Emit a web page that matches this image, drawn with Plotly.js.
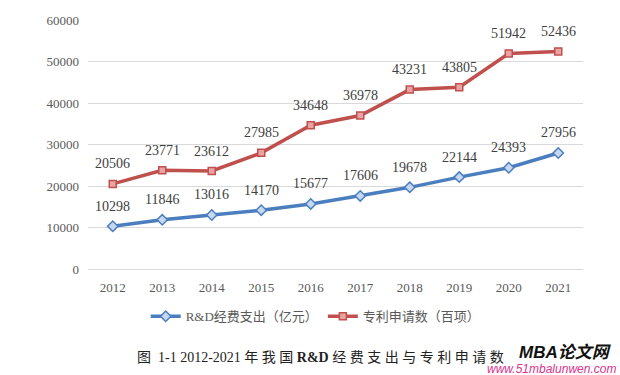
<!DOCTYPE html>
<html><head><meta charset="utf-8">
<script src="https://cdn.plot.ly/plotly-3.0.1.min.js"></script>
<style>body{margin:0;background:#fff}#c{width:620px;height:375px}</style>
</head><body><div id="c"></div>
<script>
const years = ['2012','2013','2014','2015','2016','2017','2018','2019','2020','2021'];
const rdSpending = [10298,11846,13016,14170,15677,17606,19678,22144,24393,27956];
const patents = [20506,23771,23612,27985,34648,36978,43231,43805,51942,52436];
const seriesNames = ['R&D经费支出（亿元）','专利申请数（百项）'];
const caption = '图  1-1 2012-2021 年 我 国 <b>R&D</b> 经 费 支 出 与 专 利 申 请 数';

const serif = 'Liberation Serif, Times New Roman, Noto Sans CJK SC, serif';
const blue = '#4a7ebf', red = '#c0504d';
const traces = [
  {x: years, y: rdSpending, name: seriesNames[0], type:'scatter', mode:'lines+markers',
   line:{color:blue, width:3.5},
   marker:{symbol:'diamond', size:8, color:'#c6d7ef', line:{color:blue, width:1.5}}},
  {x: years, y: patents, name: seriesNames[1], type:'scatter', mode:'lines+markers',
   line:{color:red, width:3.5},
   marker:{symbol:'square', size:7, color:'#e8a3a2', line:{color:red, width:1.5}}}
];
// category axis: annotation x given as category index
const labelAnn = ys => ys.map((v, i) => ({
  x: i, y: v, xref:'x', yref:'y', text: String(v), showarrow:false,
  yanchor:'middle', yshift:20, font:{family:serif, size:14, color:'#404040'}
}));
const layout = {
  width:620, height:375,
  margin:{l:88, r:37, t:20, b:106},
  paper_bgcolor:'#fff', plot_bgcolor:'#fff',
  showlegend:true,
  legend:{orientation:'h', x:0.46, xanchor:'center', y:-0.19, yanchor:'middle',
          font:{family:'Liberation Serif, Noto Sans CJK SC, serif', size:13, color:'#595959'}},
  xaxis:{type:'category', categoryarray: years, range:[-0.5, years.length-0.5],
         showgrid:false, zeroline:false, showline:false, ticks:'',
         tickfont:{family:serif, size:13, color:'#595959'}, ticklabelstandoff:9},
  yaxis:{range:[0,60000], dtick:10000, tickformat:'d', showgrid:true, gridcolor:'#d9d9d9', gridwidth:1,
         zeroline:true, zerolinecolor:'#d9d9d9', showline:false, ticks:'',
         tickfont:{family:serif, size:13, color:'#595959'}, ticklabelstandoff:8},
  annotations: labelAnn(rdSpending).concat(labelAnn(patents)).concat([
    {text: caption, xref:'paper', yref:'paper', x:0.469, y:-0.355, xanchor:'center', yanchor:'middle',
     showarrow:false, font:{family:'Liberation Serif, Noto Sans CJK SC, serif', size:14, color:'#222'}},
    {text:'<b><i>MBA论文网</i></b>', xref:'paper', yref:'paper', x:1.062, y:-0.335, xanchor:'right', yanchor:'middle',
     showarrow:false, font:{family:'Liberation Sans, Noto Sans CJK SC, sans-serif', size:17, color:'#111'}},
    {text:'<i>www.51mbalunwen.com</i>', xref:'paper', yref:'paper', x:1.07, y:-0.4, xanchor:'right', yanchor:'middle',
     showarrow:false, font:{family:'Liberation Sans, sans-serif', size:12, color:'#d9338f'}}
  ])
};
Plotly.newPlot('c', traces, layout, {displayModeBar:false, staticPlot:true});
</script></body></html>
